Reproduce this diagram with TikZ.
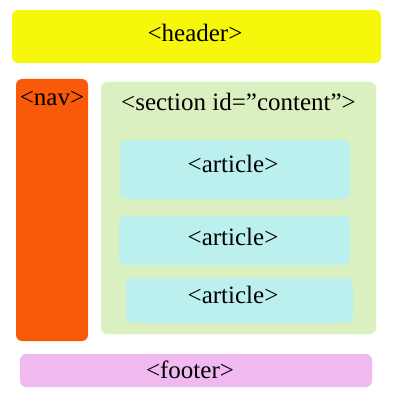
\documentclass[tikz,border=0pt]{standalone}
\usepackage{fontspec}
\setmainfont{Liberation Serif}
\usetikzlibrary{positioning}

\definecolor{headercol}{HTML}{F6F70A}
\definecolor{navcol}{HTML}{F95A0A}
\definecolor{sectioncol}{HTML}{DBF0C0}
\definecolor{articlecol}{HTML}{BCF0EE}
\definecolor{footercol}{HTML}{F0B9F0}

\begin{document}
\begin{tikzpicture}[x=1pt,y=-1pt,
    box/.style={rectangle,rounded corners=6pt,inner sep=0pt,draw=none},
    tag/.style={inner sep=0pt,font=\fontsize{25}{29}\selectfont}]
  \useasboundingbox (0,0) rectangle (400,401);
  % page blocks
  \node[box,fill=headercol,minimum width=369pt,minimum height=53pt] (header) at (196.5,36.5) {};
  \node[box,fill=navcol,minimum width=72pt,minimum height=262pt] (nav) at (52,210) {};
  \node[box,fill=sectioncol,minimum width=275pt,minimum height=252pt] (section) at (238.5,208) {};
  \node[box,fill=articlecol,minimum width=230pt,minimum height=59pt] (art1) at (235,169.5) {};
  \node[box,fill=articlecol,minimum width=231pt,minimum height=49pt] (art2) at (234.5,240.5) {};
  \node[box,fill=articlecol,minimum width=227pt,minimum height=45pt] (art3) at (239.5,300.5) {};
  \node[box,fill=footercol,minimum width=352pt,minimum height=33pt] (footer) at (196,370.5) {};
  % tags
  \node[tag] (headertag) at (195,33) {<header>};
  \node[tag,below=12pt of nav.north,anchor=north] (navtag) {<nav>};
  \node[tag,below=11pt of section.north,anchor=north] (sectiontag) {<section id=”content”>};
  \node[tag] (art1tag) at (233,164) {<article>};
  \node[tag] (art2tag) at (233,237) {<article>};
  \node[tag] (art3tag) at (233,295) {<article>};
  \node[tag] (footertag) at (190,370) {<footer>};
\end{tikzpicture}
\end{document}
